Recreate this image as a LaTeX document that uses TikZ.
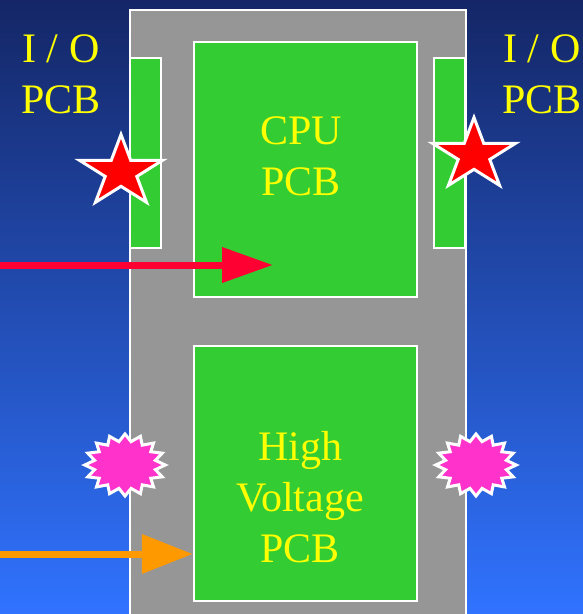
\documentclass[tikz,border=0pt]{standalone}
\usepackage{fontspec}
\setmainfont{Liberation Serif}
\usetikzlibrary{shapes.geometric,arrows.meta}
\definecolor{bgtop}{RGB}{20,38,102}
\definecolor{bgmid}{RGB}{34,72,178}
\definecolor{bgbot}{RGB}{48,115,255}
\definecolor{boardgray}{RGB}{150,150,150}
\definecolor{pcbgreen}{RGB}{51,204,51}
\definecolor{lblyellow}{RGB}{255,255,0}
\definecolor{sigred}{RGB}{255,0,51}
\definecolor{sigorange}{RGB}{255,153,0}
\definecolor{burstpink}{RGB}{255,51,204}

\begin{document}
\begin{tikzpicture}[x=1pt, y=-1pt,
    board/.style={rectangle, draw=white, line width=2.5pt, fill=boardgray, inner sep=0pt},
    pcb/.style={rectangle, draw=white, line width=2.5pt, fill=pcbgreen, inner sep=0pt},
    lbl/.style={text=lblyellow, font=\fontsize{42}{51}\selectfont, align=center, inner sep=0pt},
    redstar/.style={star, star points=5, star point ratio=2.618, minimum size=75pt,
                    inner sep=0pt, fill=red, draw=white, line width=3pt},
    burst/.style={star, star points=16, star point ratio=1.3, minimum size=62pt,
                  inner sep=0pt, fill=burstpink, draw=white, line width=3pt},
    sig/.style={line width=7pt}
]

\useasboundingbox (0,0) rectangle (583,614);
\clip (0,0) rectangle (583,614);
\shade[top color=bgtop, middle color=bgmid, bottom color=bgbot] (0,0) rectangle (583,614);

% enclosure and boards
\node[board, minimum width=336pt, minimum height=640pt] (box) at (298,330) {};
\node[pcb, minimum width=31pt, minimum height=190pt] (iol) at (145.5,153) {};
\node[pcb, minimum width=31pt, minimum height=190pt] (ior) at (449.5,153) {};
\node[pcb, minimum width=223pt, minimum height=255pt] (cpu) at (305.5,169.5) {};
\node[pcb, minimum width=223pt, minimum height=255pt] (hv) at (305.5,473.5) {};

% stars on the I/O boards
\begin{scope}[shift={(121,172)}, xscale=1.16]
  \node[redstar, transform shape] (starl) at (0,0) {};
\end{scope}
\begin{scope}[shift={(474,155)}, xscale=1.16]
  \node[redstar, transform shape] (starr) at (0,0) {};
\end{scope}

% bursts
\begin{scope}[shift={(125,465)}, xscale=1.3]
  \node[burst, transform shape] (burstl) at (0,0) {};
\end{scope}
\begin{scope}[shift={(476,465)}, xscale=1.3]
  \node[burst, transform shape] (burstr) at (0,0) {};
\end{scope}

% signals
\coordinate (redin) at (0,265);
\coordinate (redend) at (273,265);
\coordinate (orgin) at (0,554);
\draw[sig, sigred, -{Triangle[length=51pt, width=34pt]}] (redin) -- (redend);
\draw[sig, sigorange, -{Triangle[length=51pt, width=38pt]}] (orgin) -- (orgin -| hv.west);

% labels
\node[lbl] (iotextl) at (61,74) {I / O\\PCB};
\node[lbl] (iotextr) at (542,74) {I / O\\PCB};
\node[lbl] (cputext) at (301,156) {CPU\\PCB};
\node[lbl] (hvtext) at (300,497) {High\\Voltage\\PCB};

\end{tikzpicture}
\end{document}
